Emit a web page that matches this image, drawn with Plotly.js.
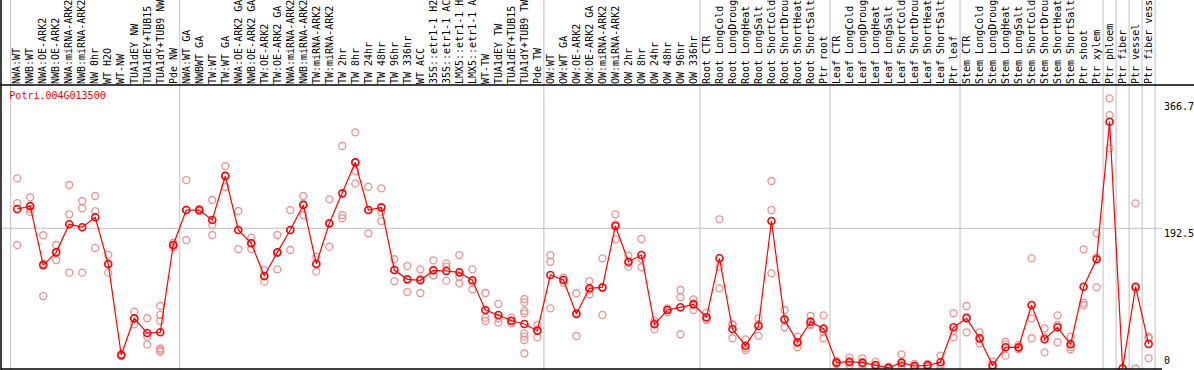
<!DOCTYPE html>
<html>
<head>
<meta charset="utf-8">
<script src="https://cdn.plot.ly/plotly-3.0.1.min.js"></script>
<style>html,body{margin:0;padding:0;background:#fff;}#chart{width:1194px;height:370px;}</style>
</head>
<body>
<div id="chart"></div>
<script>
var geneName = 'Potri.004G013500';

var categories = [
  'NWA:WT','NWB:WT','NWA:OE-ARK2','NWB:OE-ARK2','NWA:miRNA-ARK2','NWB:miRNA-ARK2','NW 0hr','WT H2O','WT-NW','TUA1dEY NW','TUA1dEY+TUB15 NW','TUA1dY+TUB9 NW','Pde NW',
  'NWA:WT GA','NWBWT GA','TW:WT','TW:WT GA','NWA:OE-ARK2 GA','NWB:OE-ARK2 GA','TW:OE-ARK2','TW:OE-ARK2 GA','NWA:miRNA-ARK2 GA','NWB:miRNA-ARK2 GA','TW:miRNA-ARK2','TW:miRNA-ARK2 GA',
  'TW 2hr','TW 8hr','TW 24hr','TW 48hr','TW 96hr','TW 336hr','WT ACC','35S::etr1-1 H2O','35S::etr1-1 ACC','LMX5::etr1-1 H2O','LMX5::etr1-1 ACC','WT-TW','TUA1dEY TW','TUA1dEY+TUB15 TW','TUA1dY+TUB9 TW','Pde TW',
  'OW:WT','OW:WT GA','OW:OE-ARK2','OW:OE-ARK2 GA','OW:miRNA-ARK2','OW:miRNA-ARK2 GA','OW 2hr','OW 8hr','OW 24hr','OW 48hr','OW 96hr','OW 336hr',
  'Root CTR','Root LongCold','Root LongDrought','Root LongHeat','Root LongSalt','Root ShortCold','Root ShortDrought','Root ShortHeat','Root ShortSalt','Ptr root',
  'Leaf CTR','Leaf LongCold','Leaf LongDrought','Leaf LongHeat','Leaf LongSalt','Leaf ShortCold','Leaf ShortDrought','Leaf ShortHeat','Leaf ShortSalt','Ptr leaf',
  'Stem CTR','Stem LongCold','Stem LongDrought','Stem LongHeat','Stem LongSalt','Stem ShortCold','Stem ShortDrought','Stem ShortHeat','Stem ShortSalt','Ptr shoot','Ptr xylem',
  'Ptr phloem','Ptr fiber','Ptr vessel','Ptr fiber vessel'
];

var meanValues = [
  219,223,142,159.5,198,194,207.6,143.5,18.5,69,48.7,49.7,169.6,
  217.6,217.6,203.9,264.3,190.2,171.9,127,159.5,190.2,224.5,143.5,199.4,
  240.5,283.1,217.6,221.3,135.2,122.5,121.1,134.8,133.9,132,121.1,80.3,73.5,65.6,61.1,51.9,
  128.4,121.5,74.8,110.1,111.5,195.7,146.6,155.8,60.7,80.3,84,88.1,
  70.3,151.3,54.2,31.3,58.4,202.5,67.6,36,64.3,54.7,
  8,9.3,8,4.8,0.8,8,3.4,4.4,8.5,56.6,
  68.9,41.5,4.4,29.1,29.1,87.2,40.1,56.6,33.2,112.3,150,
  338.9,0,112.3,33.6
];

var replicateValues = [
  [261,227,169.6],[235,219,215],[183,143.5,99.5],[169.6,160,149],[252,211.7,131.6],[230,220,131.6],[236.9,216,165.5],[156,143,131.6],[20,18.5,17],[78,68,60.7],[69,43.7,33],[85.8,73.5,65.2,27.7,25.4,23],[172.7,169.6,166.5],
  [258.8,217.6,176.4],[219,217,216],[231.4,197,183.3],[278,265,249.6],[216.3,190,164],[179.6,172,164],[135.2,126.6,119.2],[183.3,159,136.2],[217.6,190,162.7],[236.9,226,210.8],[153.5,144,133],[232.3,198.6,167.3],
  [305.5,210.8,206.2],[324.3,283,271.2,253.8],[249.6,217.6,185.6],[247.4,215.3,202.5],[150,135,120],[140.7,122,105],[136.2,123.5,103.7],[148.6,128,127.8],[144.4,139.8,120.6],[155.8,126,117],[136.2,118,108.7],[103.7,69.8,65.2],[88.6,69,62.9],[69.8,65,62],[95.4,90.9,79,75.8,48.3,43.7,39.1,20.9],[59.7,53,42.8],
  [155.8,146.6,82.6],[124.7,122,117.8],[103.3,76.5,44.6],[120.1,108,101.9],[151.3,110,73.5],[211.7,198,177.4],[154.9,145,139.8],[177.8,150.6,139],[65.6,62.7,53.8],[82.6,81,77.2],[107.8,97.8,47],[95,89,80.3],
  [76.6,67.7,66.6],[204.9,139.8,110.1],[61,59.7,41.5],[40.1,28,25.4],[68.9,61,45],[257.5,217.6,130.7],[80.3,66,56.6],[43.7,35,29.1],[72.1,61,59.7],[73,49.6,41.5],
  [10,8,6],[14.8,8,4.8],[14,6.5,3.4],[9.3,2.6,2.5],[2.5,0,0],[19.5,4.8,0],[6.2,3,1.1],[6.2,4.5,2.5],[17.6,5.4,2.5],[75.8,51,42.8],
  [85.8,71,49.7],[49.7,40,34.6],[9.3,2.5,1.5],[36.8,33,17.6],[32.3,28.6,26.4],[151.3,68.9,41.5],[55.2,43,22.2],[73,59.7,36],[43.7,29.5,26.4],[163.7,90.4,87.2],[185.6,153,111.5],
  [371,348,302.3],[0,0,0],[226.8,110,0],[43.7,41.5,14]
];

// group separators (between categories)
var separatorPositions = [-0.5,12.5,40.5,52.5,62.5,72.5,83.5,84.5,85.5,86.5,87.5];
var yTickValues = [0,192.5,366.7];
var yTickLabels = ['0','192.5','366.7'];
var gridValue = 192.5;

var idx = categories.map(function(_, i){ return i; });
var repX = [], repY = [];
replicateValues.forEach(function(arr, i){ arr.forEach(function(v){ repX.push(i); repY.push(v); }); });

var mono = 'DejaVu Sans Mono, monospace';

var traces = [
  {x: repX, y: repY, type:'scatter', mode:'markers', hoverinfo:'skip',
   marker:{symbol:'circle-open', size:7, color:'rgb(238,145,145)', line:{width:1.3, color:'rgb(238,145,145)'}}},
  {x: idx, y: meanValues, type:'scatter', mode:'lines+markers',
   line:{color:'#ff0000', width:1.2},
   marker:{symbol:'circle-open', size:7, color:'#ff0000', line:{width:1.6, color:'#ff0000'}}}
];

var shapes = [];
separatorPositions.forEach(function(p){
  shapes.push({type:'line', layer:'below', xref:'x', yref:'paper', x0:p, x1:p, y0:-0.02, y1:1.31,
    line:{color:'#c0c0c0', width:1}});
});
shapes.push({type:'line', layer:'below', xref:'paper', yref:'y', x0:0, x1:1, y0:gridValue, y1:gridValue,
  line:{color:'#c0c0c0', width:1}});
shapes.push({type:'line', xref:'paper', yref:'paper', x0:-0.002, x1:1.03, y0:1, y1:1, line:{color:'#000', width:1.5}});
shapes.push({type:'line', xref:'paper', yref:'paper', x0:0, x1:0, y0:-0.01, y1:1.31, line:{color:'#000', width:1.5}});
shapes.push({type:'line', xref:'paper', yref:'paper', x0:0, x1:1, y0:0, y1:0, line:{color:'#000', width:1.5}});

var annotations = yTickValues.map(function(v, k){
  return {xref:'paper', yref:'y', x:1, y:v, xanchor:'left', yanchor: v === 0 ? 'bottom' : 'top',
    text:yTickLabels[k], showarrow:false, font:{family:mono, size:10, color:'#000'},
    xshift:0, yshift: v === 0 ? 0 : 2};
});

var layout = {
  width:1194, height:370,
  margin:{l:1, r:32, t:85, b:1, pad:0},
  paper_bgcolor:'#fff', plot_bgcolor:'#fff',
  showlegend:false,
  title:{text:geneName, font:{family:mono, size:10, color:'#ff0000'}, xref:'paper', yref:'paper',
    x:0.0072, xanchor:'left', y:0.962, yanchor:'middle', pad:{t:0,b:0,l:0,r:0}},
  xaxis:{range:[-1.246, 88.03], side:'top', tickmode:'array', tickvals:idx, ticktext:categories,
    tickangle:-90, ticks:'', showgrid:false, zeroline:false, showline:false, automargin:false,
    tickfont:{family:mono, size:10, color:'#000'}, fixedrange:true},
  yaxis:{range:[-0.7, 389.3], showticklabels:false, showgrid:false, zeroline:false, showline:false,
    ticks:'', automargin:false, fixedrange:true},
  shapes:shapes,
  annotations:annotations
};

Plotly.newPlot('chart', traces, layout, {displayModeBar:false, staticPlot:true});
</script>
</body>
</html>
